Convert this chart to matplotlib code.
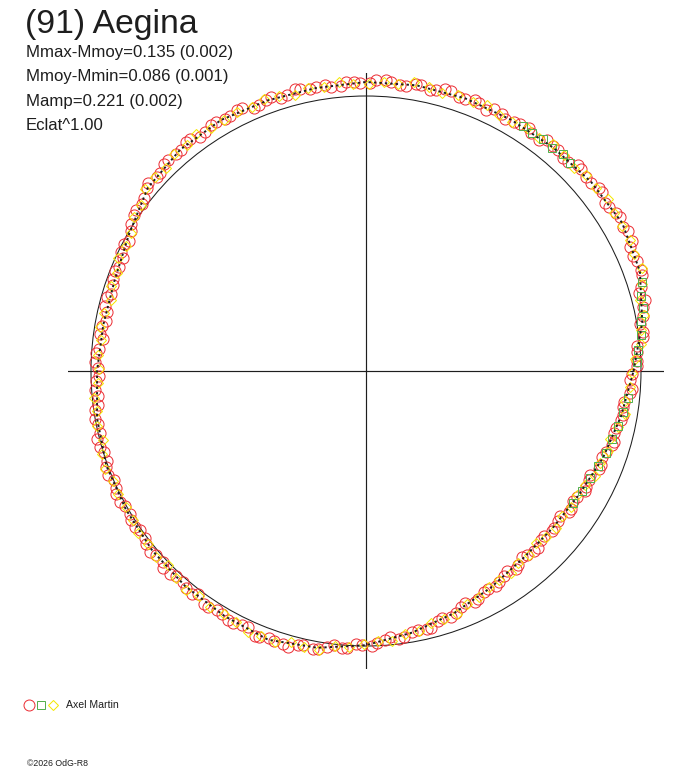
import numpy as np
import matplotlib
matplotlib.use("Agg")
import matplotlib.pyplot as plt
from matplotlib.lines import Line2D

# ---------------- data ----------------
title = "(91) Aegina"
info_lines = ["Mmax-Mmoy=0.135 (0.002)",
              "Mmoy-Mmin=0.086 (0.001)",
              "Mamp=0.221 (0.002)",
              "Eclat^1.00"]
observer = "Axel Martin"
credit = "\u00a92026 OdG-R8"

# fitted curve (phase angle in degrees, relative flux radius)
fit_deg = [0, 10, 20, 30, 40, 50, 60, 70, 80, 90, 100, 110, 120, 130, 140, 150, 160, 170,
           180, 190, 200, 210, 220, 230, 240, 250, 260, 270, 280, 290, 300, 310, 320, 330,
           340, 350, 360]
fit_r = [0.973, 1.020, 1.060, 1.076, 1.069, 1.060, 1.055, 1.055, 1.055, 1.051, 1.045, 1.047,
         1.054, 1.051, 1.036, 0.995, 0.972, 0.970, 0.978, 0.993, 1.005, 1.008, 1.015, 1.022,
         1.029, 1.040, 1.022, 0.997, 0.966, 0.937, 0.909, 0.889, 0.887, 0.896, 0.918, 0.942,
         0.973]

# session 1 (red circles)
red_deg = [1.0, 4.1, 7.0, 9.8, 13.1, 16.0, 19.2, 22.0, 25.1, 28.0, 31.2, 34.0, 37.1, 40.0,
           43.2, 46.0, 49.1, 52.0, 55.2, 58.0, 61.1, 64.0, 67.2, 70.0, 73.1, 76.0, 79.2, 82.0,
           85.1, 88.0, 91.2, 94.0, 97.1, 100.0, 103.2, 106.0, 109.1, 112.0, 115.2, 118.0,
           121.1, 124.0, 127.2, 130.0, 133.1, 136.0, 139.2, 142.0, 145.1, 148.0, 151.2, 154.0,
           157.1, 160.0, 163.2, 166.0, 169.1, 172.0, 175.2, 178.0, 181.1, 184.0, 187.2, 190.0,
           193.1, 196.0, 199.2, 202.0, 205.1, 208.0, 211.2, 214.0, 217.1, 220.0, 223.2, 226.0,
           229.1, 232.0, 235.2, 238.0, 241.1, 244.0, 247.2, 250.0, 253.1, 256.0, 259.2, 262.0,
           265.1, 268.0, 271.2, 274.0, 277.1, 280.0, 283.2, 286.0, 289.1, 292.0, 295.2, 298.0,
           301.1, 304.0, 307.2, 310.0, 313.1, 316.0, 319.2, 322.0, 325.1, 328.0, 331.2, 334.0,
           337.1, 340.0, 343.2, 346.0, 349.1, 352.0, 355.2, 358.0,
           2.2, 5.3, 8.1, 11.2, 14.3, 17.1, 20.2, 23.3, 26.1, 29.2, 32.3, 35.1, 38.2, 41.3,
           44.1, 47.2, 50.3, 53.1, 56.2, 59.3, 62.2, 65.3, 68.1, 71.2, 74.3, 77.1, 80.2, 83.3,
           86.1, 89.2, 92.3, 95.1, 98.2, 101.3, 104.1, 107.2, 110.3, 113.1, 116.2, 119.3,
           122.2, 125.3, 128.1, 131.2, 134.3, 137.1, 140.2, 143.3, 146.1, 149.2, 152.3, 155.1,
           158.2, 161.3, 164.1, 167.2, 170.3, 173.1, 176.2, 179.3, 182.2, 185.3, 188.1, 191.2,
           194.3, 197.1, 200.2, 203.3, 206.1, 209.2, 212.3, 215.1, 218.2, 221.3, 224.1, 227.2,
           230.3, 233.1, 236.2, 239.3, 242.2, 245.3, 248.1, 251.2, 254.3, 257.1, 260.2, 263.3,
           266.1, 269.2, 272.3, 275.1, 278.2, 281.3, 284.1, 287.2, 290.3, 293.1, 296.2, 299.3,
           302.2, 305.3, 308.1, 311.2, 314.3, 317.1, 320.2, 323.3, 326.1, 329.2, 332.3, 335.1,
           338.2, 341.3, 344.1, 347.2, 350.3, 353.1, 356.2, 359.3]
red_r = [0.984, 0.988, 1.015, 1.012, 1.034, 1.034, 1.062, 1.063, 1.062, 1.081, 1.078, 1.068,
         1.078, 1.066, 1.072, 1.056, 1.065, 1.068, 1.052, 1.058, 1.048, 1.061, 1.056, 1.051,
         1.063, 1.053, 1.060, 1.048, 1.056, 1.059, 1.046, 1.054, 1.039, 1.049, 1.054, 1.043,
         1.053, 1.043, 1.058, 1.051, 1.059, 1.047, 1.061, 1.047, 1.052, 1.039, 1.045, 1.023,
         1.021, 1.006, 0.985, 0.991, 0.975, 0.979, 0.968, 0.977, 0.964, 0.976, 0.973, 0.985,
         0.971, 0.987, 0.983, 1.000, 0.993, 1.006, 0.996, 1.011, 1.005, 1.014, 1.004, 1.015,
         1.007, 1.023, 1.014, 1.024, 1.014, 1.027, 1.034, 1.023, 1.036, 1.029, 1.044, 1.034,
         1.039, 1.026, 1.029, 1.012, 1.012, 0.995, 1.001, 0.981, 0.981, 0.963, 0.964, 0.944,
         0.945, 0.925, 0.930, 0.911, 0.913, 0.898, 0.902, 0.885, 0.896, 0.883, 0.893, 0.886,
         0.898, 0.889, 0.907, 0.901, 0.918, 0.912, 0.933, 0.928, 0.945, 0.945, 0.965, 0.962,
         0.987, 0.990, 1.018, 1.025, 1.048, 1.045, 1.065, 1.058, 1.077, 1.072, 1.076, 1.063,
         1.076, 1.067, 1.075, 1.057, 1.064, 1.050, 1.064, 1.052, 1.057, 1.046, 1.061, 1.054,
         1.065, 1.050, 1.059, 1.046, 1.059, 1.048, 1.051, 1.039, 1.052, 1.044, 1.056, 1.041,
         1.051, 1.041, 1.059, 1.051, 1.055, 1.044, 1.058, 1.048, 1.054, 1.035, 1.038, 1.014,
         1.018, 0.995, 0.992, 0.974, 0.982, 0.971, 0.981, 0.966, 0.974, 0.965, 0.983, 0.975,
         0.984, 0.977, 0.997, 0.994, 1.008, 0.997, 1.009, 0.998, 1.014, 1.005, 1.012, 1.003,
         1.020, 1.015, 1.028, 1.015, 1.026, 1.016, 1.034, 1.026, 1.034, 1.026, 1.044, 1.036,
         1.042, 1.022, 1.025, 1.004, 1.011, 0.995, 0.991, 0.971, 0.976, 0.960, 0.963, 0.939,
         0.939, 0.919, 0.926, 0.907, 0.906, 0.889, 0.898, 0.888, 0.898, 0.883, 0.891, 0.882,
         0.900, 0.893, 0.904, 0.899, 0.921, 0.921, 0.939, 0.931, 0.948, 0.944, 0.968, 0.969]

# session 2 (green squares)
green_deg = [45.5, 47.8, 50.2, 52.6, 55.0, 57.3, 2.0, 4.5, 7.5, 10.3, 12.8, 15.2, 17.8,
             354.2, 351.0, 347.8, 344.5, 341.2, 337.8, 334.5, 331.0, 327.5]
green_r = [1.058, 1.064, 1.057, 1.062, 1.055, 1.059, 0.985, 0.991, 1.010, 1.018, 1.034,
           1.038, 1.054, 0.957, 0.946, 0.938, 0.929, 0.921, 0.912, 0.904, 0.899, 0.893]

# session 3 (yellow diamonds)
yellow_deg = [2.5, 5.6, 8.4, 11.5, 14.6, 17.4, 20.5, 23.6, 26.4, 29.5, 32.6, 35.4, 38.5, 41.6,
              44.4, 47.5, 50.6, 53.4, 56.5, 59.6, 62.5, 65.6, 68.4, 71.5, 74.6, 77.4, 80.5,
              83.6, 86.4, 89.5, 92.6, 95.4, 98.5, 101.6, 104.4, 107.5, 110.6, 113.4, 116.5,
              119.6, 122.5, 125.6, 128.4, 131.5, 134.6, 137.4, 140.5, 143.6, 146.4, 149.5,
              152.6, 155.4, 158.5, 161.6, 164.4, 167.5, 170.6, 173.4, 176.5, 179.6, 182.5,
              185.6, 188.4, 191.5, 194.6, 197.4, 200.5, 203.6, 206.4, 209.5, 212.6, 215.4,
              218.5, 221.6, 224.4, 227.5, 230.6, 233.4, 236.5, 239.6, 242.5, 245.6, 248.4,
              251.5, 254.6, 257.4, 260.5, 263.6, 266.4, 269.5, 272.6, 275.4, 278.5, 281.6,
              284.4, 287.5, 290.6, 293.4, 296.5, 299.6, 302.5, 305.6, 308.4, 311.5, 314.6,
              317.4, 320.5, 323.6, 326.4, 329.5, 332.6, 335.4, 338.5, 341.6, 344.4, 347.5,
              350.6, 353.4, 356.5, 359.6]
yellow_r = [0.980, 1.006, 1.010, 1.030, 1.030, 1.053, 1.070, 1.062, 1.071, 1.069, 1.069, 1.079,
            1.068, 1.072, 1.057, 1.065, 1.069, 1.054, 1.058, 1.049, 1.050, 1.062, 1.053, 1.059,
            1.047, 1.058, 1.064, 1.050, 1.053, 1.045, 1.044, 1.055, 1.044, 1.049, 1.038, 1.049,
            1.056, 1.045, 1.053, 1.048, 1.048, 1.060, 1.050, 1.053, 1.036, 1.043, 1.043, 1.017,
            1.011, 0.991, 0.984, 0.990, 0.973, 0.976, 0.963, 0.974, 0.979, 0.969, 0.977, 0.972,
            0.977, 0.993, 0.989, 0.999, 0.990, 1.005, 1.014, 1.002, 1.008, 1.002, 1.005, 1.019,
            1.012, 1.020, 1.010, 1.023, 1.031, 1.020, 1.028, 1.023, 1.027, 1.042, 1.036, 1.041,
            1.024, 1.030, 1.030, 1.008, 1.005, 0.992, 0.984, 0.987, 0.968, 0.965, 0.945, 0.947,
            0.944, 0.923, 0.920, 0.904, 0.899, 0.905, 0.890, 0.893, 0.880, 0.891, 0.896, 0.886,
            0.894, 0.890, 0.897, 0.915, 0.913, 0.926, 0.921, 0.939, 0.953, 0.948, 0.962, 0.966]

# ---------------- styles ----------------
RED = "#ec3036"
GREEN = "#55b04f"
YELLOW = "#f5e800"
INK = "#1e1e1e"
FONT = ["Liberation Sans", "DejaVu Sans"]

W, H = 688, 768
fig = plt.figure(figsize=(W / 100, H / 100), dpi=100)
fig.patch.set_facecolor("white")

cx, cy, R = 366, 371, 298          # centre and half-length of cross (pixels)
ax = fig.add_axes([(cx - R) / W, (H - cy - R) / H, 2 * R / W, 2 * R / H],
                  projection="polar")
ax.set_facecolor("none")
ax.set_ylim(0, R / 275.0)
ax.set_thetagrids([0, 90, 180, 270], labels=["", "", "", ""])
ax.set_rgrids([1.0], labels=[""])
ax.xaxis.grid(True, color=INK, lw=0.85)
ax.yaxis.grid(True, color=INK, lw=0.75)
ax.spines["polar"].set_visible(False)
ax.tick_params(length=0)

rad = np.deg2rad
ax.plot(rad(np.array(red_deg)), red_r, ls="none", marker="o", ms=8.0, mfc="none",
        mec=RED, mew=0.72, clip_on=False, zorder=3, antialiased=False)
ax.plot(rad(np.array(yellow_deg)), yellow_r, ls="none", marker="D", ms=5.0, mfc="none",
        mec=YELLOW, mew=0.72, clip_on=False, zorder=4, antialiased=False)
ax.plot(rad(np.array(green_deg)), green_r, ls="none", marker="s", ms=5.8, mfc="none",
        mec=GREEN, mew=0.72, clip_on=False, zorder=5, antialiased=False)
ax.plot(rad(np.array(fit_deg)), fit_r, color=INK, lw=1.4, ls=(0, (1.2, 1.6)),
        clip_on=False, zorder=6)

# ---------------- texts ----------------
def fx(px):
    return px / W

def fy(py):
    return 1 - py / H

fig.text(fx(25), fy(33), title, fontsize=24.3, family=FONT, color=INK, va="baseline")
for i, line in enumerate(info_lines):
    fig.text(fx(26), fy(57 + 24.5 * i), line, fontsize=12.1, family=FONT, color=INK,
             va="baseline")

# legend
for x, m, c, s in [(29, "o", RED, 7.9), (41, "s", GREEN, 6.4), (53, "D", YELLOW, 5.6)]:
    fig.add_artist(Line2D([fx(x)], [fy(704.5)], transform=fig.transFigure, marker=m, ms=s,
                          mfc="none", mec=c, mew=0.72, ls="none", antialiased=False))
fig.text(fx(66), fy(708.5), observer, fontsize=7.6, family=FONT, color=INK, va="baseline")
fig.text(fx(27), fy(766), credit, fontsize=6.3, family=FONT, color=INK, va="baseline")

fig.savefig("out.png", dpi=100, facecolor="white")
